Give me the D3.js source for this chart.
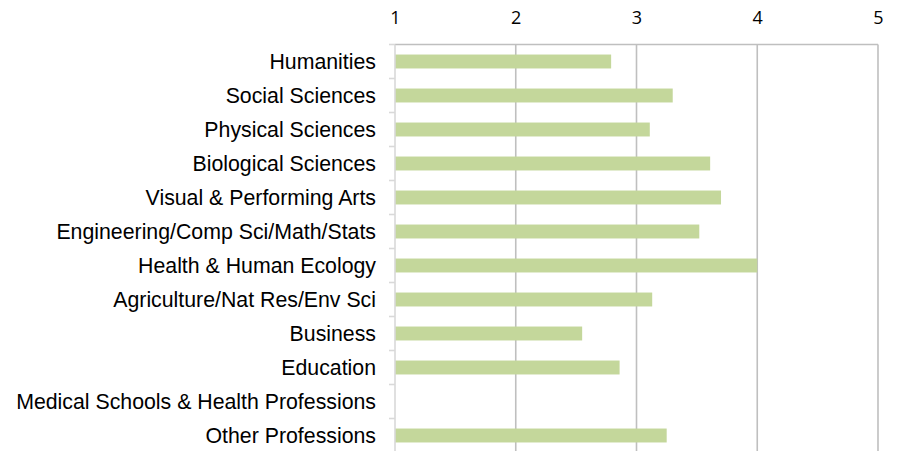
<!DOCTYPE html>
<html>
<head>
<meta charset="utf-8">
<script src="https://cdn.jsdelivr.net/npm/d3@7"></script>
<style>
  html, body { margin: 0; padding: 0; background: #fff; }
  svg { display: block; }
</style>
</head>
<body>
<svg id="chart" width="902" height="451"></svg>
<script>
const categories = [
  "Humanities",
  "Social Sciences",
  "Physical Sciences",
  "Biological Sciences",
  "Visual & Performing Arts",
  "Engineering/Comp Sci/Math/Stats",
  "Health & Human Ecology",
  "Agriculture/Nat Res/Env Sci",
  "Business",
  "Education",
  "Medical Schools & Health Professions",
  "Other Professions"
];
const values = [2.79, 3.30, 3.11, 3.61, 3.70, 3.52, 4.00, 3.13, 2.55, 2.86, null, 3.25];
const xTicks = [1, 2, 3, 4, 5];

const svg = d3.select("#chart");
const plotLeft = 395, plotRight = 878, plotTop = 44.5, step = 34;
const plotBottom = plotTop + step * categories.length;

const x = d3.scaleLinear().domain([1, 5]).range([plotLeft, plotRight]);
const y = d3.scaleBand().domain(categories).range([plotTop, plotBottom])
  .paddingInner(0.59).paddingOuter(0.295);

// vertical gridlines
svg.append("g").selectAll("line").data(xTicks.slice(1)).join("line")
  .attr("x1", d => x(d)).attr("x2", d => x(d))
  .attr("y1", plotTop).attr("y2", plotBottom)
  .attr("stroke", "#bfbfbf").attr("stroke-width", 1.6);

// top border line
svg.append("line")
  .attr("x1", plotLeft).attr("x2", plotRight)
  .attr("y1", plotTop).attr("y2", plotTop)
  .attr("stroke", "#bfbfbf").attr("stroke-width", 1.6);

// x axis (top) labels
const xAxis = d3.axisTop(x).tickValues(xTicks).tickFormat(d3.format("d")).tickSize(0).tickPadding(0);
const gx = svg.append("g").attr("transform", "translate(0,24)").call(xAxis);
gx.select(".domain").remove();
gx.selectAll("text")
  .attr("dy", 0)
  .attr("font-family", "'Open Sans', 'Liberation Sans', Arial, sans-serif")
  .attr("font-size", 18)
  .attr("fill", "#000");

// bars
svg.append("g").selectAll("rect")
  .data(categories.map((c, i) => ({c, v: values[i]})).filter(d => d.v != null))
  .join("rect")
  .attr("x", x(1))
  .attr("y", d => y(d.c))
  .attr("width", d => x(d.v) - x(1))
  .attr("height", y.bandwidth())
  .attr("fill", "#c4d79b");

// y axis line and ticks
const boundaries = d3.range(categories.length + 1).map(i => plotTop + i * step);
svg.append("line")
  .attr("x1", plotLeft).attr("x2", plotLeft)
  .attr("y1", plotTop).attr("y2", plotBottom)
  .attr("stroke", "#d9d9d9").attr("stroke-width", 1.6);
svg.append("g").selectAll("line").data(boundaries).join("line")
  .attr("x1", plotLeft - 6).attr("x2", plotLeft)
  .attr("y1", d => d).attr("y2", d => d)
  .attr("stroke", "#d9d9d9").attr("stroke-width", 1.6);

// category labels
svg.append("g").selectAll("text").data(categories).join("text")
  .attr("x", 376)
  .attr("y", d => y(d) + y.bandwidth() / 2 + 7.5)
  .attr("text-anchor", "end")
  .attr("font-family", "'Liberation Sans', Arial, sans-serif")
  .attr("font-size", 21.3)
  .attr("fill", "#000")
  .text(d => d);
</script>
</body>
</html>
